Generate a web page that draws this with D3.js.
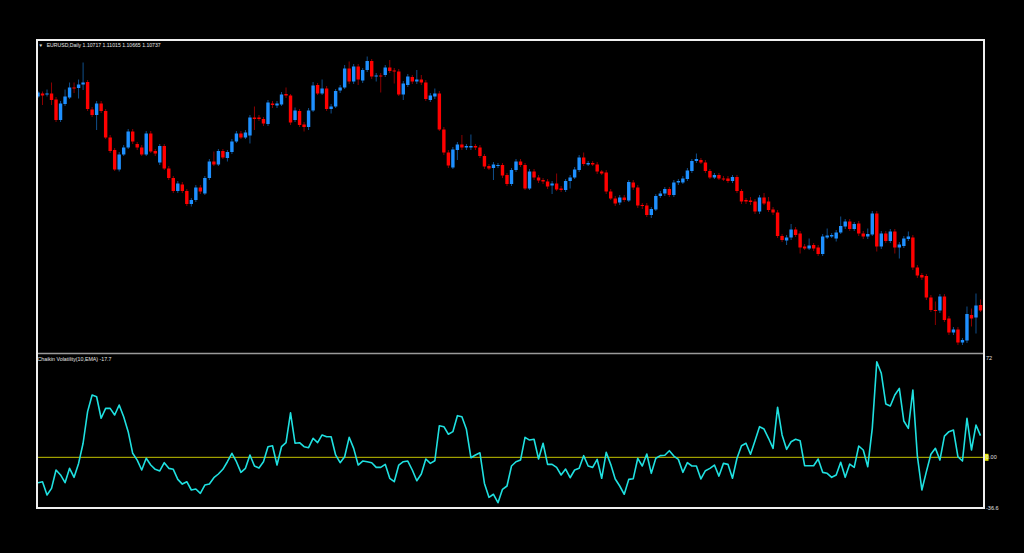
<!DOCTYPE html>
<html><head><meta charset="utf-8">
<script src="https://cdn.jsdelivr.net/npm/d3@7"></script>
<style>html,body{margin:0;padding:0;background:#000;}svg{display:block}</style>
</head><body>
<svg id="c" width="1024" height="553"></svg>
<script>
const symbolTitle = "EURUSD,Daily";
const lastQuote = ["1.10717", "1.11015", "1.10665", "1.10737"];
const indicatorTitle = "Chaikin Volatility(10,EMA) -17.7";
const indTickValues = [72, 0, -36.6];
const indTickLabels = ["72", "0.00", "-36.6"];

const openP = [1.1497,1.1503,1.1501,1.1503,1.1491,1.1450,1.1482,1.1495,1.1515,1.1514,
1.1521,1.1526,1.1471,1.1460,1.1483,1.1468,1.1415,1.1390,1.1351,1.1381,
1.1395,1.1427,1.1402,1.1395,1.1381,1.1423,1.1388,1.1365,1.1398,1.1353,
1.1334,1.1308,1.1321,1.1308,1.1282,1.1290,1.1315,1.1303,1.1334,1.1367,
1.1361,1.1388,1.1374,1.1386,1.1407,1.1423,1.1415,1.1419,1.1455,1.1455,
1.1452,1.1442,1.1483,1.1479,1.1481,1.1502,1.1499,1.1450,1.1468,1.1441,
1.1436,1.1469,1.1520,1.1503,1.1513,1.1472,1.1477,1.1509,1.1515,1.1553,
1.1527,1.1557,1.1529,1.1550,1.1568,1.1537,1.1539,1.1540,1.1555,1.1549,
1.1547,1.1501,1.1520,1.1536,1.1527,1.1531,1.1525,1.1490,1.1497,1.1503,
1.1431,1.1385,1.1355,1.1390,1.1401,1.1395,1.1395,1.1398,1.1395,1.1378,
1.1358,1.1354,1.1358,1.1360,1.1340,1.1322,1.1350,1.1367,1.1360,1.1313,
1.1347,1.1335,1.1330,1.1327,1.1319,1.1323,1.1313,1.1310,1.1328,1.1335,
1.1350,1.1375,1.1361,1.1364,1.1361,1.1347,1.1345,1.1307,1.1293,1.1285,
1.1295,1.1289,1.1325,1.1315,1.1280,1.1279,1.1260,1.1271,1.1298,1.1303,
1.1312,1.1300,1.1325,1.1325,1.1332,1.1348,1.1368,1.1370,1.1365,1.1348,
1.1335,1.1340,1.1333,1.1333,1.1328,1.1336,1.1308,1.1290,1.1289,1.1287,
1.1267,1.1295,1.1287,1.1271,1.1265,1.1218,1.1209,1.1215,1.1231,1.1223,
1.1197,1.1193,1.1200,1.1195,1.1182,1.1215,1.1217,1.1213,1.1225,1.1237,
1.1247,1.1232,1.1243,1.1223,1.1217,1.1221,1.1263,1.1197,1.1223,1.1208,
1.1227,1.1195,1.1198,1.1212,1.1215,1.1155,1.1140,1.1138,1.1095,1.1070,
1.1069,1.1097,1.1053,1.1025,1.1031,1.1005,1.1009,1.1060,1.1055,1.1080];

const highP = [1.1508,1.1507,1.1511,1.1525,1.1496,1.1488,1.1511,1.1525,1.1525,1.1531,
1.1565,1.1530,1.1476,1.1488,1.1488,1.1472,1.1420,1.1394,1.1386,1.1400,
1.1432,1.1432,1.1406,1.1400,1.1428,1.1428,1.1392,1.1402,1.1402,1.1358,
1.1338,1.1328,1.1326,1.1312,1.1294,1.1320,1.1320,1.1338,1.1372,1.1387,
1.1392,1.1392,1.1390,1.1412,1.1428,1.1428,1.1430,1.1460,1.1477,1.1460,
1.1456,1.1490,1.1488,1.1488,1.1506,1.1515,1.1502,1.1475,1.1472,1.1446,
1.1474,1.1526,1.1524,1.1531,1.1518,1.1482,1.1512,1.1520,1.1560,1.1567,
1.1562,1.1562,1.1554,1.1577,1.1572,1.1544,1.1544,1.1560,1.1570,1.1554,
1.1552,1.1528,1.1542,1.1540,1.1550,1.1540,1.1530,1.1504,1.1513,1.1508,
1.1436,1.1390,1.1396,1.1406,1.1420,1.1402,1.1421,1.1402,1.1400,1.1382,
1.1362,1.1366,1.1364,1.1364,1.1344,1.1354,1.1372,1.1372,1.1364,1.1352,
1.1352,1.1340,1.1334,1.1332,1.1328,1.1343,1.1318,1.1332,1.1340,1.1356,
1.1380,1.1385,1.1368,1.1368,1.1366,1.1350,1.1350,1.1312,1.1298,1.1300,
1.1300,1.1330,1.1330,1.1320,1.1284,1.1284,1.1276,1.1302,1.1308,1.1316,
1.1316,1.1330,1.1332,1.1338,1.1354,1.1372,1.1383,1.1374,1.1370,1.1352,
1.1344,1.1344,1.1338,1.1338,1.1340,1.1340,1.1312,1.1294,1.1296,1.1292,
1.1300,1.1304,1.1296,1.1276,1.1270,1.1222,1.1220,1.1242,1.1236,1.1228,
1.1202,1.1213,1.1204,1.1200,1.1222,1.1233,1.1224,1.1230,1.1257,1.1252,
1.1252,1.1246,1.1248,1.1228,1.1233,1.1268,1.1268,1.1228,1.1228,1.1232,
1.1232,1.1206,1.1218,1.1227,1.1220,1.1160,1.1144,1.1142,1.1100,1.1087,
1.1102,1.1102,1.1058,1.1036,1.1036,1.1014,1.1077,1.1073,1.1103,1.1091];

const lowP = [1.1494,1.1480,1.1497,1.1480,1.1446,1.1446,1.1478,1.1492,1.1504,1.1493,
1.1510,1.1468,1.1456,1.1430,1.1464,1.1412,1.1384,1.1348,1.1347,1.1378,
1.1392,1.1402,1.1390,1.1378,1.1378,1.1384,1.1378,1.1360,1.1350,1.1330,
1.1304,1.1304,1.1304,1.1278,1.1277,1.1286,1.1302,1.1300,1.1330,1.1358,
1.1358,1.1372,1.1367,1.1382,1.1404,1.1412,1.1412,1.1403,1.1430,1.1448,
1.1438,1.1438,1.1474,1.1474,1.1478,1.1494,1.1440,1.1446,1.1436,1.1427,
1.1430,1.1466,1.1500,1.1500,1.1468,1.1463,1.1474,1.1504,1.1512,1.1522,
1.1522,1.1520,1.1524,1.1546,1.1532,1.1527,1.1505,1.1536,1.1544,1.1523,
1.1498,1.1490,1.1516,1.1522,1.1522,1.1520,1.1488,1.1486,1.1492,1.1428,
1.1380,1.1354,1.1352,1.1370,1.1390,1.1390,1.1390,1.1390,1.1374,1.1352,
1.1350,1.1330,1.1354,1.1334,1.1318,1.1318,1.1346,1.1356,1.1310,1.1310,
1.1330,1.1324,1.1322,1.1312,1.1302,1.1308,1.1306,1.1306,1.1313,1.1332,
1.1346,1.1358,1.1358,1.1358,1.1342,1.1340,1.1302,1.1290,1.1278,1.1280,
1.1286,1.1286,1.1310,1.1274,1.1272,1.1256,1.1254,1.1268,1.1294,1.1298,
1.1296,1.1296,1.1320,1.1322,1.1328,1.1344,1.1364,1.1362,1.1344,1.1332,
1.1332,1.1330,1.1328,1.1324,1.1324,1.1304,1.1282,1.1282,1.1280,1.1262,
1.1262,1.1280,1.1266,1.1260,1.1214,1.1206,1.1200,1.1210,1.1216,1.1183,
1.1190,1.1190,1.1188,1.1178,1.1178,1.1212,1.1214,1.1207,1.1222,1.1232,
1.1228,1.1228,1.1218,1.1212,1.1212,1.1218,1.1187,1.1192,1.1204,1.1204,
1.1183,1.1173,1.1194,1.1208,1.1150,1.1134,1.1130,1.1090,1.1066,1.1040,
1.1064,1.1046,1.1020,1.1020,1.1000,1.1000,1.1004,1.1037,1.1023,1.1066];

const closeP = [1.1505,1.1499,1.1503,1.1490,1.1450,1.1483,1.1497,1.1515,1.1513,1.1521,
1.1525,1.1472,1.1460,1.1483,1.1468,1.1415,1.1388,1.1351,1.1381,1.1395,
1.1427,1.1407,1.1395,1.1381,1.1423,1.1387,1.1383,1.1398,1.1353,1.1334,
1.1308,1.1323,1.1308,1.1282,1.1290,1.1315,1.1307,1.1334,1.1367,1.1361,
1.1388,1.1375,1.1386,1.1407,1.1423,1.1415,1.1425,1.1455,1.1452,1.1452,
1.1443,1.1485,1.1480,1.1483,1.1501,1.1499,1.1445,1.1469,1.1440,1.1436,
1.1469,1.1519,1.1503,1.1513,1.1472,1.1477,1.1508,1.1515,1.1553,1.1527,
1.1557,1.1531,1.1550,1.1568,1.1537,1.1539,1.1537,1.1555,1.1548,1.1547,
1.1501,1.1523,1.1537,1.1527,1.1531,1.1525,1.1492,1.1499,1.1503,1.1431,
1.1385,1.1359,1.1391,1.1401,1.1395,1.1398,1.1398,1.1395,1.1378,1.1357,
1.1353,1.1361,1.1360,1.1339,1.1322,1.1350,1.1367,1.1360,1.1313,1.1347,
1.1335,1.1329,1.1327,1.1317,1.1323,1.1311,1.1310,1.1328,1.1335,1.1351,
1.1375,1.1362,1.1364,1.1361,1.1347,1.1343,1.1307,1.1293,1.1283,1.1295,
1.1290,1.1326,1.1315,1.1279,1.1278,1.1260,1.1272,1.1298,1.1303,1.1312,
1.1300,1.1325,1.1328,1.1333,1.1349,1.1368,1.1372,1.1365,1.1348,1.1335,
1.1340,1.1333,1.1331,1.1328,1.1336,1.1308,1.1287,1.1287,1.1286,1.1267,
1.1295,1.1283,1.1270,1.1265,1.1218,1.1210,1.1215,1.1231,1.1220,1.1195,
1.1193,1.1199,1.1193,1.1182,1.1217,1.1219,1.1220,1.1225,1.1238,1.1247,
1.1232,1.1242,1.1223,1.1217,1.1222,1.1263,1.1197,1.1223,1.1208,1.1227,
1.1195,1.1201,1.1213,1.1217,1.1155,1.1139,1.1135,1.1095,1.1070,1.1069,
1.1097,1.1050,1.1025,1.1031,1.1005,1.1010,1.1062,1.1053,1.1079,1.1069];

const chaikinVol = [-18.4,-17.7,-27.3,-22.5,-9.2,-12.8,-18.4,-8.0,-14.5,-4.4,
10.2,33.1,45.2,43.9,28.3,35.5,35.5,30.7,37.9,29.4,
18.6,2.9,-2.0,-9.2,-0.7,-5.6,-8.7,-9.9,-3.9,-8.0,
-8.7,-16.0,-19.4,-17.7,-23.7,-23.0,-26.1,-20.1,-19.4,-14.8,
-12.1,-8.7,-3.2,2.9,-3.2,-10.9,-8.0,1.7,-6.3,-7.8,
-3.2,7.7,8.4,-5.6,7.7,10.6,32.3,10.2,10.6,7.7,
7.0,13.8,10.6,16.2,14.9,14.9,1.7,-3.9,0.4,14.5,
6.5,-5.6,-2.7,-3.2,-3.9,-7.3,-7.3,-5.1,-15.2,-17.7,
-5.6,-3.2,-2.7,-9.2,-17.0,-12.1,-1.2,-4.4,-2.5,22.9,
22.2,16.7,18.6,30.2,29.4,20.3,-0.3,1.7,3.3,-18.9,
-29.0,-26.8,-32.9,-23.2,-20.8,-6.3,-3.2,-2.0,14.5,12.5,
13.1,-1.2,10.2,-5.1,-5.1,-7.3,-12.8,-8.5,-14.8,-9.2,
-8.0,1.2,-6.3,-7.3,-1.5,-15.2,3.6,-5.1,-15.7,-20.8,
-26.8,-16.0,-15.5,-0.7,-6.3,2.4,-11.6,-0.7,1.2,1.5,
4.8,0.9,-1.5,-10.9,-3.9,-6.3,-6.3,-15.7,-9.7,-8.0,
-5.6,-13.6,-4.4,-5.1,-15.2,-0.7,8.4,10.2,2.2,12.0,
22.2,20.5,13.8,6.5,36.3,16.2,5.8,11.3,13.1,12.0,
-6.1,-6.1,-6.1,-1.2,-10.9,-11.6,-14.5,-12.8,-3.6,-14.5,
-4.9,-7.3,8.2,5.3,-6.8,21.0,69.3,60.9,38.7,37.2,
45.2,50.0,26.3,21.0,48.8,0.9,-23.7,-10.4,2.2,6.5,
-2.0,15.4,18.6,19.8,0.4,-2.7,28.3,5.3,23.4,15.7];

const UP = "#1e90ff", DOWN = "#ff0000";
const svg = d3.select("#c");
svg.append("rect").attr("width", 1024).attr("height", 553).attr("fill", "#000");

const n = openP.length;
const x = d3.scaleLinear().domain([0, n - 1]).range([38, 980.5]);
const y = d3.scaleLinear().domain([1.0984, 1.1608]).range([353, 41]);
const yi = d3.scaleLinear().domain([-36.6, 72]).range([507.8, 358]);

const defs = svg.append("defs");
defs.append("clipPath").attr("id", "mainClip").append("rect")
  .attr("x", 38).attr("y", 41).attr("width", 945).attr("height", 311);
defs.append("clipPath").attr("id", "indClip").append("rect")
  .attr("x", 38).attr("y", 354).attr("width", 945).attr("height", 153);

const bars = d3.range(n).map(i => ({i, o: openP[i], h: highP[i], l: lowP[i], c: closeP[i]}));
const gMain = svg.append("g").attr("clip-path", "url(#mainClip)");
gMain.selectAll("line.wick").data(bars).join("line")
  .attr("x1", d => x(d.i)).attr("x2", d => x(d.i))
  .attr("y1", d => y(d.h)).attr("y2", d => y(d.l))
  .attr("stroke", d => d.c >= d.o ? UP : DOWN)
  .attr("stroke-opacity", 0.55).attr("stroke-width", 1);
gMain.selectAll("rect.body").data(bars).join("rect")
  .attr("x", d => x(d.i) - 1.7).attr("width", 3.4)
  .attr("y", d => y(Math.max(d.o, d.c)))
  .attr("height", d => Math.max(1, Math.abs(y(d.o) - y(d.c))))
  .attr("fill", d => d.c >= d.o ? UP : DOWN);

// indicator pane
const gInd = svg.append("g");
gInd.append("line").attr("x1", 38).attr("x2", 983).attr("y1", yi(0)).attr("y2", yi(0))
  .attr("stroke", "#c4c400").attr("stroke-width", 1);
const line = d3.line().x((d, i) => x(i)).y(d => yi(d));
gInd.append("path").attr("clip-path", "url(#indClip)").attr("d", line(chaikinVol))
  .attr("fill", "none").attr("stroke", "#1fe0e0").attr("stroke-width", 1.6)
  .attr("stroke-linejoin", "round");

// frame & separator
svg.append("line").attr("x1", 38).attr("x2", 983).attr("y1", 353.5).attr("y2", 353.5)
  .attr("stroke", "#9a9a9a").attr("stroke-width", 1.4);
svg.append("rect").attr("x", 37).attr("y", 40).attr("width", 947).attr("height", 468)
  .attr("fill", "none").attr("stroke", "#efefef").attr("stroke-width", 2);

// right indicator labels
const font = "Liberation Sans, Arial, sans-serif";
indTickValues.forEach((v, k) => {
  if (v === 0) {
    svg.append("rect").attr("x", 985).attr("y", yi(0) - 3.5).attr("width", 3.5).attr("height", 7).attr("fill", "#e8e800");
  }
  svg.append("text").attr("x", 986).attr("y", yi(v) + 2)
    .attr("font-family", font).attr("font-size", 5.5).attr("fill", "#e0e0e0")
    .text(indTickLabels[k]);
});

// header texts
svg.append("text").attr("x", 38.5).attr("y", 46.5).attr("font-family", font).attr("font-size", 4.5)
  .attr("fill", "#e0e0e0").text("▼");
svg.append("text").attr("x", 46.7).attr("y", 47).attr("font-family", font).attr("font-size", 5.5)
  .attr("fill", "#e6e6e6").attr("textLength", 114).attr("lengthAdjust", "spacingAndGlyphs")
  .text(symbolTitle + "  " + lastQuote.join(" "));
svg.append("text").attr("x", 37.5).attr("y", 360.5).attr("font-family", font).attr("font-size", 5.5)
  .attr("fill", "#e6e6e6").attr("textLength", 74).attr("lengthAdjust", "spacingAndGlyphs")
  .text(indicatorTitle);
</script>
</body></html>
